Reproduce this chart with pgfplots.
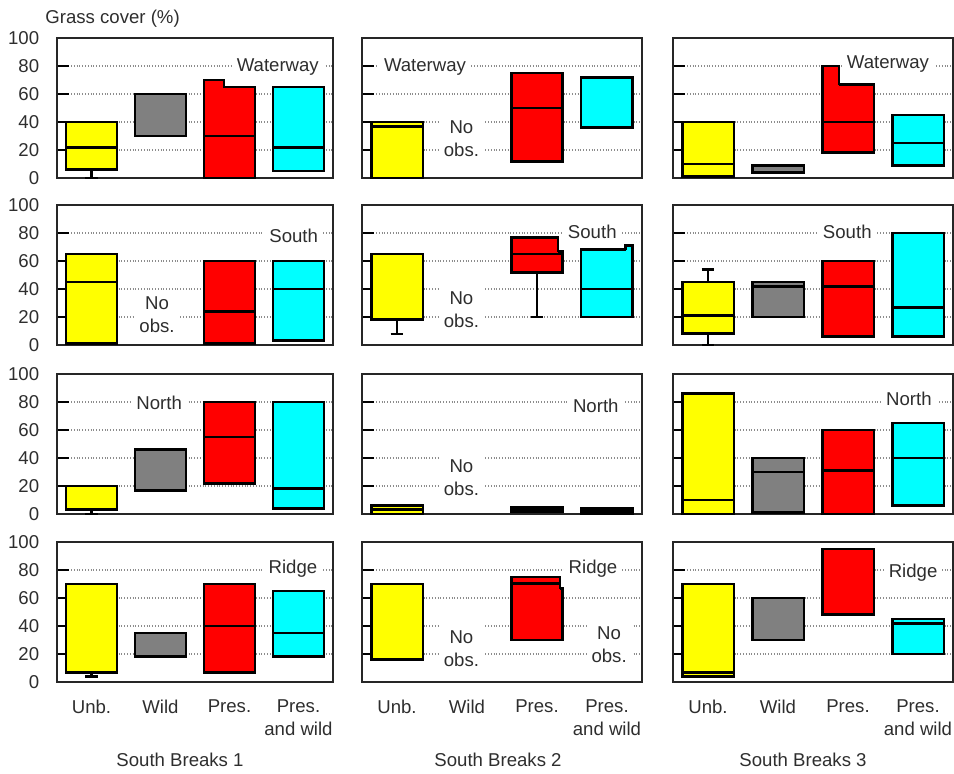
\documentclass[border=0pt]{standalone}
\usepackage{fontspec}
\setmainfont{Liberation Sans}
\usepackage{pgfplots}
\pgfplotsset{compat=1.18}
\usepgfplotslibrary{statistics}
\definecolor{txt}{HTML}{2E2E2E}
\definecolor{bgray}{HTML}{808080}
\definecolor{byellow}{HTML}{FFFF00}
\definecolor{bred}{HTML}{FF0000}
\definecolor{bcyan}{HTML}{00FFFF}
\newcommand{\fs}{\fontsize{9.3}{11.5}\selectfont}
\pgfplotsset{
 panel/.style={scale only axis, height=70pt, xmin=0.5, xmax=4.5, ymin=0, ymax=100,
   ytick={0,20,40,60,80,100}, xtick={1,2,3,4}, xticklabels={}, xtick style={draw=none},
   ytick pos=left, tick align=inside, major tick length=6pt,
   ytick style={black, line width=1pt},
   ymajorgrids, grid style={gray!90, densely dotted, line width=0.55pt},
   axis line style={black!85, line width=0.9pt},
   tick label style={font=\fs, text=txt},
   /pgf/number format/assume math mode=true,
   yticklabel style={xshift=-5.4pt},
   anchor=south west,
   boxplot/draw direction=y,
   boxplot/box extend=0.74, boxplot/whisker extend=0.18,
   boxplot/every box/.style={draw=black, line width=1.4pt},
   boxplot/every median/.style={draw=black, line width=1.4pt},
   boxplot/every whisker/.style={draw=black, line width=1.1pt}},
 c1/.style={width=138pt},
 c23/.style={width=140pt, yticklabels={}},
 bottomrow/.style={xticklabels={Unb.,Wild,Pres.,{Pres.\\and wild}},
   xticklabel style={align=center, yshift=-5.5pt}},
}
\tikzset{lab/.style={font=\fs, text=txt, fill=white, inner sep=2.5pt, align=center}}
% pos, colour, lower whisker, lower quartile, median, upper quartile, upper whisker
\newcommand{\bx}[7]{\addplot[boxplot prepared={draw position=#1, lower whisker=#3,
  lower quartile=#4, median=#5, upper quartile=#6, upper whisker=#7},
  fill=#2, draw=black, line width=1.4pt, solid] coordinates {};}
\begin{document}
\begin{tikzpicture}
\useasboundingbox (0,0) rectangle (477pt,386.5pt);
%================ Row 1: Waterway
\begin{axis}[panel, c1, at={(28.5pt,297.5pt)}]
\node[lab] at (axis cs:3.7,79) {Waterway};
\bx{1}{byellow}{0}{6}{22}{40}{40}
\bx{2}{bgray}{30}{30}{60}{60}{60}
\bx{3}{bred}{0}{0}{30}{65}{65}
\addplot[fill=bred, draw=none] coordinates {(2.63,64) (2.92,64) (2.92,70) (2.63,70)};
\addplot[black, line width=1.4pt] coordinates {(2.63,63.8) (2.63,70) (2.92,70) (2.92,64.1)};
\bx{4}{bcyan}{5}{5}{22}{65}{65}
\end{axis}
\begin{axis}[panel, c23, at={(181pt,297.5pt)}]
\node[lab] at (axis cs:1.4,79) {Waterway};
\node[lab] at (axis cs:1.92,28) {No\\obs.};
\bx{1}{byellow}{0}{0}{37}{40}{40}
\bx{3}{bred}{12}{12}{50}{75}{75}
\bx{4}{bcyan}{36}{36}{36}{72}{72}
\end{axis}
\begin{axis}[panel, c23, at={(336.5pt,297.5pt)}]
\node[lab] at (axis cs:3.57,81.5) {Waterway};
\bx{1}{byellow}{1}{1}{10}{40}{40}
\bx{2}{bgray}{4}{4}{4}{9}{9}
\bx{3}{bred}{18}{18}{40}{67}{67}
\addplot[fill=bred, draw=none] coordinates {(2.63,66) (2.87,66) (2.87,80) (2.63,80)};
\addplot[black, line width=1.4pt] coordinates {(2.63,65.8) (2.63,80) (2.87,80) (2.87,66.1)};
\bx{4}{bcyan}{9}{9}{25}{45}{45}
\end{axis}
%================ Row 2: South
\begin{axis}[panel, c1, at={(28.5pt,214pt)}]
\node[lab] at (axis cs:3.93,78) {South};
\node[lab] at (axis cs:1.95,22) {No\\obs.};
\bx{1}{byellow}{1}{1}{45}{65}{65}
\bx{3}{bred}{1}{1}{24}{60}{60}
\bx{4}{bcyan}{3}{3}{40}{60}{60}
\end{axis}
\begin{axis}[panel, c23, at={(181pt,214pt)}]
\node[lab] at (axis cs:3.79,81) {South};
\node[lab] at (axis cs:1.92,25) {No\\obs.};
\bx{1}{byellow}{8}{18}{18}{65}{65}
\bx{3}{bred}{20}{52}{65}{67}{67}
\addplot[fill=bred, draw=none] coordinates {(2.63,66) (3.30,66) (3.30,77) (2.63,77)};
\addplot[black, line width=1.4pt] coordinates {(2.63,65.8) (2.63,77) (3.30,77) (3.30,66.1)};
\bx{4}{bcyan}{20}{20}{40}{68}{68}
\addplot[fill=bcyan, draw=none] coordinates {(4.27,67) (4.37,67) (4.37,71) (4.27,71)};
\addplot[black, line width=1.4pt] coordinates {(4.27,68) (4.27,71) (4.37,71) (4.37,67.1)};
\end{axis}
\begin{axis}[panel, c23, at={(336.5pt,214pt)}]
\node[lab] at (axis cs:2.99,81) {South};
\bx{1}{byellow}{0}{8}{21}{45}{54}
\bx{2}{bgray}{20}{20}{42}{45}{45}
\bx{3}{bred}{6}{6}{42}{60}{60}
\bx{4}{bcyan}{6}{6}{27}{80}{80}
\end{axis}
%================ Row 3: North
\begin{axis}[panel, c1, at={(28.5pt,129.5pt)}]
\node[lab] at (axis cs:1.98,79.5) {North};
\bx{1}{byellow}{0}{3}{3}{20}{20}
\bx{2}{bgray}{17}{17}{17}{46}{46}
\bx{3}{bred}{22}{22}{55}{80}{80}
\bx{4}{bcyan}{4}{4}{18}{80}{80}
\end{axis}
\begin{axis}[panel, c23, at={(181pt,129.5pt)}]
\node[lab] at (axis cs:3.84,77) {North};
\node[lab] at (axis cs:1.92,26) {No\\obs.};
\bx{1}{byellow}{0}{0}{3}{6}{6}
\bx{3}{bred}{2}{2}{3.5}{5}{5}
\bx{4}{bcyan}{0}{0}{2}{4}{4}
\end{axis}
\begin{axis}[panel, c23, at={(336.5pt,129.5pt)}]
\node[lab] at (axis cs:3.87,82) {North};
\bx{1}{byellow}{0}{0}{10}{86}{86}
\bx{2}{bgray}{1}{1}{30}{40}{40}
\bx{3}{bred}{0}{0}{31}{60}{60}
\bx{4}{bcyan}{6}{6}{40}{65}{65}
\end{axis}
%================ Row 4: Ridge
\begin{axis}[panel, c1, bottomrow, at={(28.5pt,45.5pt)}]
\node[lab] at (axis cs:3.92,81) {Ridge};
\bx{1}{byellow}{4}{7}{7}{70}{70}
\bx{2}{bgray}{18}{18}{35}{35}{35}
\bx{3}{bred}{7}{7}{40}{70}{70}
\bx{4}{bcyan}{18}{18}{35}{65}{65}
\end{axis}
\begin{axis}[panel, c23, bottomrow, at={(181pt,45.5pt)}]
\node[lab] at (axis cs:3.8,81) {Ridge};
\node[lab] at (axis cs:1.92,24) {No\\obs.};
\node[lab] at (axis cs:4.03,27) {No\\obs.};
\bx{1}{byellow}{16}{16}{16}{70}{70}
\bx{3}{bred}{30}{30}{67}{67}{67}
\addplot[fill=bred, draw=none] coordinates {(2.63,66) (3.33,66) (3.33,75) (2.63,75)};
\addplot[black, line width=1.4pt] coordinates {(2.63,65.8) (2.63,75) (3.33,75) (3.33,66.1)};
\addplot[black, line width=1.4pt] coordinates {(2.63,70.5) (3.33,70.5)};
\end{axis}
\begin{axis}[panel, c23, bottomrow, at={(336.5pt,45.5pt)}]
\node[lab] at (axis cs:3.93,78) {Ridge};
\bx{1}{byellow}{4}{4}{7}{70}{70}
\bx{2}{bgray}{30}{30}{30}{60}{60}
\bx{3}{bred}{48}{48}{95}{95}{95}
\bx{4}{bcyan}{20}{20}{42}{45}{45}
\end{axis}
%================ titles
\node[font=\fs, text=txt, anchor=base, inner sep=0pt] at (90pt,3.2pt) {South Breaks 1};
\node[font=\fs, text=txt, anchor=base, inner sep=0pt] at (249pt,3.2pt) {South Breaks 2};
\node[font=\fs, text=txt, anchor=base, inner sep=0pt] at (401.5pt,3.2pt) {South Breaks 3};
\node[font=\fs, text=txt, anchor=base west, inner sep=0pt] at (22.5pt,374.7pt) {Grass cover (\%)};
\end{tikzpicture}
\end{document}
